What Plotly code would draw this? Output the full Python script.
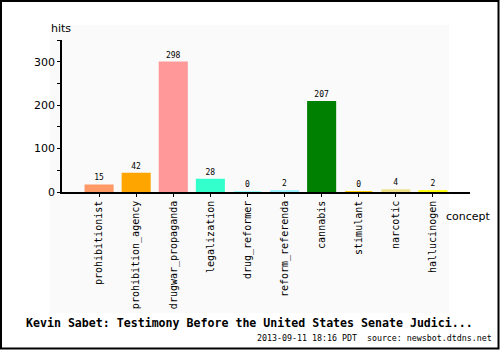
import plotly.graph_objects as go

categories = ["prohibitionist", "prohibition_agency", "drugwar_propaganda", "legalization",
              "drug_reformer", "reform_referenda", "cannabis", "stimulant", "narcotic", "hallucinogen"]
hits = [15, 42, 298, 28, 0, 2, 207, 0, 4, 2]
colors = ["#ff9966", "#ffa500", "#ff9999", "#33ffcc", "#99ffff", "#99eeff",
          "#008000", "#ffcc00", "#eee08a", "#ffff00"]
title = "Kevin Sabet: Testimony Before the United States Senate Judici..."
subtitle = "2013-09-11 18:16 PDT  source: newsbot.dtdns.net"

W, H = 500, 350
L, R, T, B = 62, 470, 40, 192


def px(x):
    return (x - L) / (R - L)


def py(y):
    return (B - y) / (B - T)


fig = go.Figure()
fig.add_trace(go.Bar(
    x=list(range(len(categories))), y=hits,
    marker=dict(color=colors, line=dict(color=colors, width=2)),
    width=0.73,
    text=[str(v) for v in hits], textposition="outside",
    textfont=dict(family="DejaVu Sans Mono", size=8, color="black"),
    cliponaxis=False,
))

fig.update_layout(
    width=W, height=H,
    margin=dict(l=L, r=W - R, t=T, b=H - B),
    paper_bgcolor="white", plot_bgcolor="rgba(0,0,0,0)",
    showlegend=False,
    xaxis=dict(range=[-1.0, 10.0], tickmode="array", tickvals=list(range(len(categories))),
               ticktext=categories, tickangle=-90, ticks="outside", ticklen=3, tickcolor="black",
               showline=True, linecolor="black", linewidth=1.5, showgrid=False, zeroline=False,
               tickfont=dict(family="DejaVu Sans Mono", size=10, color="black")),
    yaxis=dict(range=[0, 350], tickvals=[0, 100, 200, 300], ticks="outside", ticklen=3,
               tickcolor="black", showline=True, linecolor="black", linewidth=1.5,
               showgrid=False, zeroline=False,
               minor=dict(tickvals=[50, 150, 250, 350], ticks="outside", ticklen=3, tickcolor="black"),
               tickfont=dict(family="DejaVu Sans", size=11, color="black")),
    font=dict(family="DejaVu Sans", color="black"),
    shapes=[
        dict(type="rect", xref="paper", yref="paper", layer="below",
             x0=px(50), x1=px(449), y0=py(313), y1=py(25),
             fillcolor="#fafafa", line=dict(width=0)),
        dict(type="rect", xref="paper", yref="paper", layer="above",
             x0=px(1), x1=px(498.5), y0=py(348.5), y1=py(1),
             fillcolor="rgba(0,0,0,0)", line=dict(color="black", width=2)),
    ],
    annotations=[
        dict(text="hits", xref="paper", yref="paper", x=px(61), y=py(29),
             xanchor="center", yanchor="middle",
             showarrow=False, font=dict(family="DejaVu Sans", size=11)),
        dict(text="concept", xref="paper", yref="paper", x=px(468), y=py(216),
             xanchor="center", yanchor="middle",
             showarrow=False, font=dict(family="DejaVu Sans", size=11)),
        dict(text="<b>" + title + "</b>", xref="paper", yref="paper", x=px(249), y=py(323),
             xanchor="center", yanchor="middle",
             showarrow=False, font=dict(family="DejaVu Sans Mono", size=11.6)),
        dict(text=subtitle, xref="paper", yref="paper", x=px(494), y=py(338),
             xanchor="right", yanchor="middle",
             showarrow=False, font=dict(family="DejaVu Sans Mono", size=8.3)),
    ],
)

fig.write_html("out.html")
